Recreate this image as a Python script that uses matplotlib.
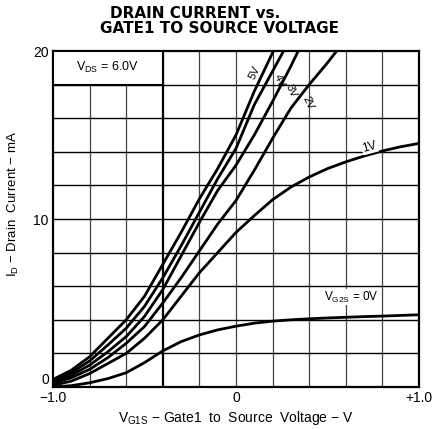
import numpy as np
import matplotlib
matplotlib.use("Agg")
import matplotlib.pyplot as plt
from matplotlib.patches import Rectangle

plt.rcParams['font.family'] = ['Liberation Sans', 'DejaVu Sans']

# gate1 voltage (V) and drain current (mA) for each gate2 bias
x_full = [-1.0, -0.9, -0.8, -0.7, -0.6, -0.5, -0.4, -0.3, -0.2, -0.1, 0.0,
          0.1, 0.2, 0.3, 0.4, 0.5, 0.6, 0.7, 0.8, 0.9, 1.0]
id_0v = [0.0, 0.08, 0.25, 0.5, 0.85, 1.45, 2.15, 2.7, 3.1, 3.4, 3.62,
         3.8, 3.92, 4.0, 4.06, 4.11, 4.15, 4.19, 4.22, 4.26, 4.3]
id_1v = [0.1, 0.35, 0.8, 1.4, 2.0, 2.9, 4.0, 5.4, 6.8, 8.0, 9.2,
         10.2, 11.15, 11.9, 12.5, 13.0, 13.4, 13.75, 14.05, 14.3, 14.5]

x_2v = [-1.0, -0.9, -0.8, -0.7, -0.6, -0.5, -0.4, -0.3, -0.2, -0.1, 0.0,
        0.1, 0.2, 0.3, 0.4, 0.5, 0.55]
id_2v = [0.22, 0.55, 1.05, 1.75, 2.6, 3.6, 5.0, 6.5, 8.1, 9.7, 11.1,
         12.9, 14.8, 16.6, 18.0, 19.3, 20.0]

x_3v = [-1.0, -0.9, -0.8, -0.7, -0.6, -0.5, -0.4, -0.3, -0.2, -0.1, 0.0,
        0.1, 0.2, 0.3, 0.34]
id_3v = [0.3, 0.7, 1.3, 2.1, 3.0, 4.2, 5.8, 7.8, 9.8, 11.7, 13.2,
         15.0, 17.0, 19.1, 20.0]

x_4v = [-1.0, -0.9, -0.8, -0.7, -0.6, -0.5, -0.4, -0.3, -0.2, -0.1, 0.0,
        0.1, 0.2, 0.26]
id_4v = [0.38, 0.85, 1.55, 2.5, 3.5, 4.8, 6.5, 8.4, 10.4, 12.4, 14.2,
         16.8, 18.8, 20.0]

x_5v = [-1.0, -0.9, -0.8, -0.7, -0.6, -0.5, -0.4, -0.3, -0.2, -0.1, 0.0,
        0.1, 0.2, 0.205]
id_5v = [0.45, 1.0, 1.8, 2.9, 4.0, 5.4, 7.3, 9.2, 11.2, 13.0, 15.0,
         17.6, 19.9, 20.0]

fig = plt.figure(figsize=(4.39, 4.29), dpi=100)
ax = fig.add_axes([0.1207, 0.0979, 0.8337, 0.7832])

ax.set_xlim(-1.0, 1.0)
ax.set_ylim(0, 20)

# grid
for gx in np.arange(-0.8, 1.0, 0.2):
    lw = 1.6 if abs(gx + 0.4) < 1e-6 else 0.9
    col = 'black' if abs(gx + 0.4) < 1e-6 else '#444444'
    ax.axvline(gx, color=col, lw=lw, zorder=1)
for gy in range(2, 20, 2):
    ax.axhline(gy, color='black', lw=1.0, zorder=1)

for s in ax.spines.values():
    s.set_linewidth(1.6)

# curves
for xs, ys in [(x_full, id_0v), (x_full, id_1v), (x_2v, id_2v),
               (x_3v, id_3v), (x_4v, id_4v), (x_5v, id_5v)]:
    ax.plot(xs, ys, color='black', lw=2.0, zorder=3, clip_on=True,
            solid_capstyle='butt')

# VDS box
ax.add_patch(Rectangle((-1.0, 18.0), 0.6, 2.0, facecolor='white',
                       edgecolor='black', lw=1.5, zorder=4))
ax.text(-0.7, 19.0, r'V$_{\mathregular{DS}}$ = 6.0V', ha='center', va='center',
        fontsize=9, zorder=5)

lbl = dict(facecolor='white', edgecolor='none', pad=0.6)
ax.text(0.10, 18.7, '5V', rotation=65, ha='center', va='center', fontsize=8,
        zorder=5)
ax.text(0.235, 18.2, '4V', rotation=-65, ha='center', va='center', fontsize=8,
        zorder=5)
ax.text(0.30, 17.6, '3V', rotation=-65, ha='center', va='center', fontsize=8,
        zorder=5)
ax.text(0.395, 16.9, '2V', rotation=-65, ha='center', va='center', fontsize=8,
        zorder=5)
ax.text(0.73, 14.3, '1V', rotation=15, ha='center', va='center', fontsize=8.5,
        zorder=5, bbox=lbl)
ax.text(0.63, 5.35, r'V$_{\mathregular{G2S}}$ = 0V', ha='center', va='center',
        fontsize=8.5, zorder=5, bbox=lbl)

ax.set_xticks([-1.0, 0.0, 1.0])
ax.set_xticklabels(['\u22121.0', '0', '+1.0'])
ax.set_yticks([0, 10, 20])
ax.set_yticklabels(['0', '10', '20'])
ax.tick_params(length=0, labelsize=10, pad=3)
ax.get_yticklabels()[0].set_va('bottom')

ax.set_xlabel(r'V$_{\mathregular{G1S}}$' + ' \u2212 Gate1  to  Source  Voltage \u2212 V',
              fontsize=10, labelpad=3)
ax.set_ylabel(r'I$_{\mathregular{D}}$' + ' \u2212 Drain  Current \u2212 mA',
              fontsize=9.5)
ax.yaxis.set_label_coords(-0.087, 0.545)

fig.text(0.25, 0.968, 'DRAIN CURRENT vs.', fontsize=11, fontweight='bold',
         ha='left', va='center', family='DejaVu Sans')
fig.text(0.228, 0.934, 'GATE1 TO SOURCE VOLTAGE', fontsize=11,
         fontweight='bold', ha='left', va='center', family='DejaVu Sans')

fig.savefig('out.png', dpi=100)
